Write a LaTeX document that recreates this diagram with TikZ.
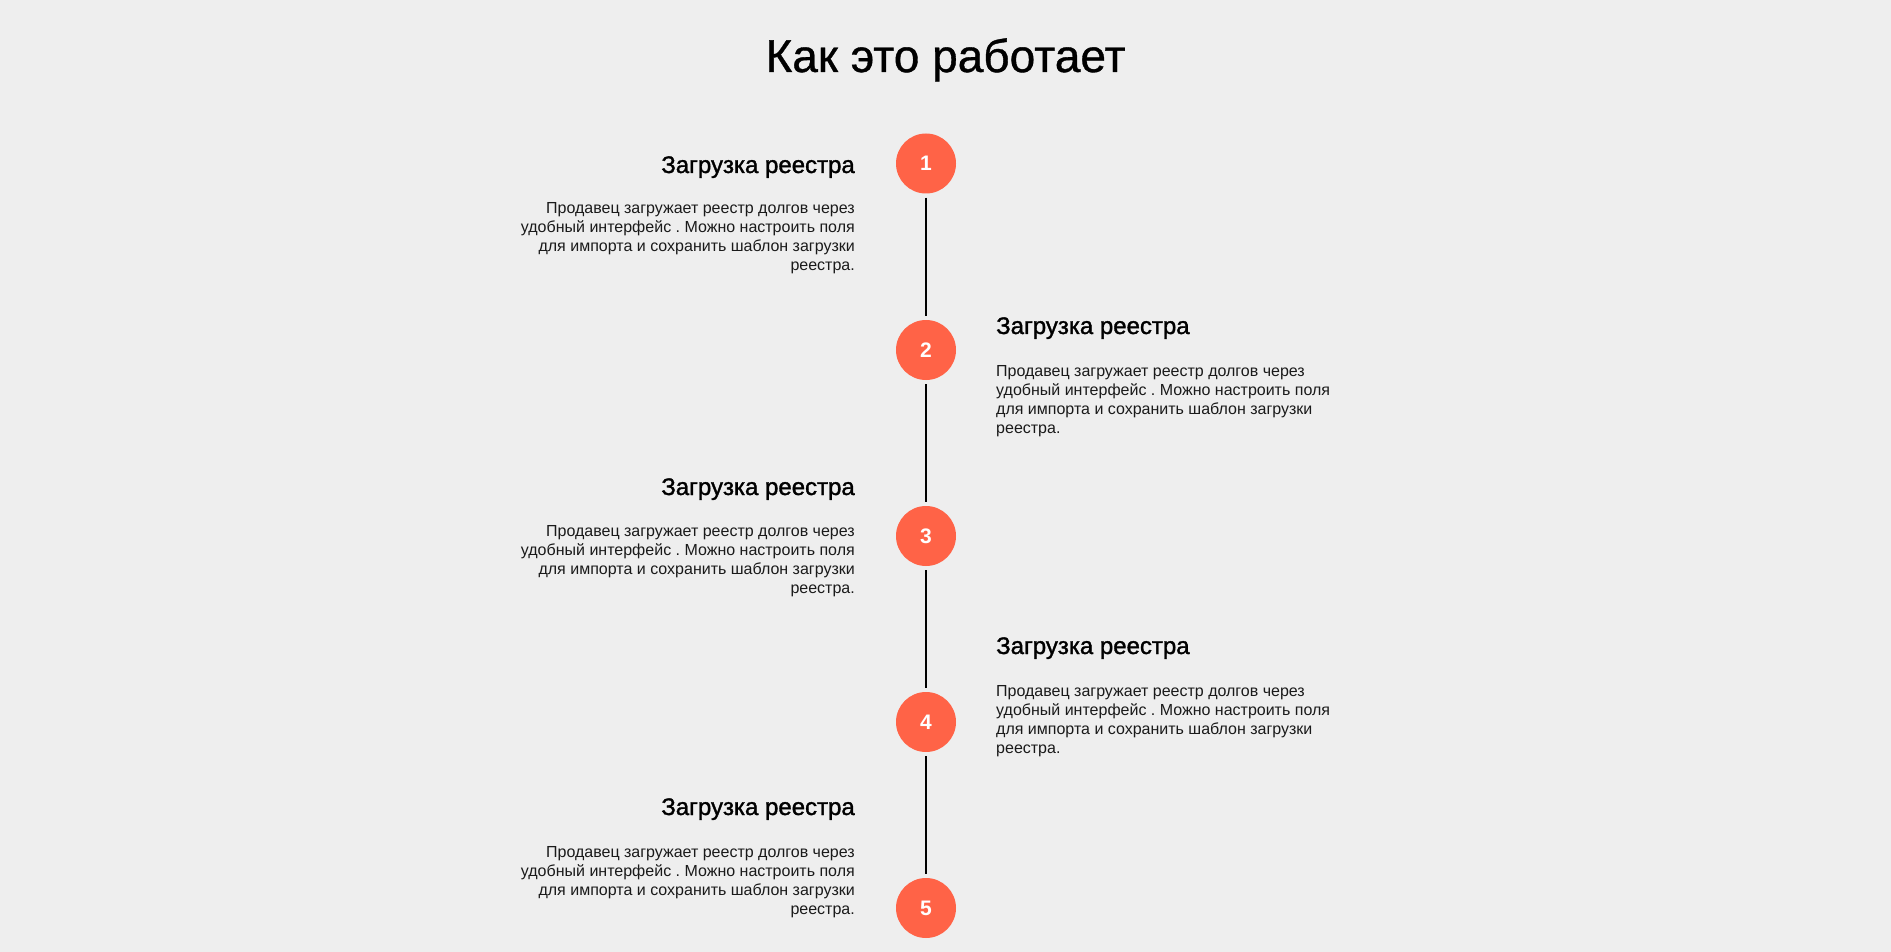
\documentclass[tikz,border=0pt]{standalone}
\usepackage{fontspec}
\setmainfont{Liberation Sans}
\newfontfamily\headfont[FakeBold=1.4]{Liberation Sans}
\newfontfamily\titlefont[FakeBold=0.8]{Liberation Sans}
\frenchspacing
\definecolor{bg}{HTML}{EEEEEE}
\definecolor{tomato}{HTML}{FF6347}
\definecolor{bodytext}{HTML}{1A1A1A}
\newcommand{\bodyR}{\begin{tabular}[t]{@{}r@{}}Продавец загружает реестр долгов через\\удобный интерфейс . Можно настроить поля\\для импорта и сохранить шаблон загрузки\\реестра.\end{tabular}}
\newcommand{\bodyL}{\begin{tabular}[t]{@{}l@{}}Продавец загружает реестр долгов через\\удобный интерфейс . Можно настроить поля\\для импорта и сохранить шаблон загрузки\\реестра.\end{tabular}}
\tikzset{
  stepcircle/.style={circle, fill=tomato, minimum size=60pt, inner sep=0pt, text=white, font=\fontsize{21}{21}\selectfont\bfseries},
  headleft/.style={anchor=base east, inner sep=0pt, font=\headfont\fontsize{24}{24}\selectfont},
  headright/.style={anchor=base west, inner sep=0pt, font=\headfont\fontsize{24}{24}\selectfont},
  bodyleft/.style={anchor=base east, inner sep=0pt, text=bodytext, font=\frenchspacing\fontsize{16}{19}\selectfont},
  bodyright/.style={anchor=base west, inner sep=0pt, text=bodytext, font=\frenchspacing\fontsize{16}{19}\selectfont},
  timeline/.style={line width=2.5pt, black, shorten >=4pt, shorten <=4pt}
}
\begin{document}
\begin{tikzpicture}[x=1pt,y=-1pt]
\fill[bg] (0,0) rectangle (1891,952);
\useasboundingbox (0,0) rectangle (1891,952);
\node[anchor=base, inner sep=0pt, font=\titlefont\fontsize{46}{46}\selectfont] (title) at (945.5,72) {Как это работает};
\node[stepcircle] (c1) at (926,163.5) {1};
\node[stepcircle] (c2) at (926,350) {2};
\node[stepcircle] (c3) at (926,536) {3};
\node[stepcircle] (c4) at (926,722) {4};
\node[stepcircle] (c5) at (926,908) {5};
\draw[timeline] (c1) -- (c2);
\draw[timeline] (c2) -- (c3);
\draw[timeline] (c3) -- (c4);
\draw[timeline] (c4) -- (c5);
\node[headleft] (h1) at (855,173) {Загрузка реестра};
\node[bodyleft] (b1) at (855,214) {\bodyR};
\node[headright] (h2) at (996,334) {Загрузка реестра};
\node[bodyright] (b2) at (996,376) {\bodyL};
\node[headleft] (h3) at (855,495) {Загрузка реестра};
\node[bodyleft] (b3) at (855,536) {\bodyR};
\node[headright] (h4) at (996,654) {Загрузка реестра};
\node[bodyright] (b4) at (996,696) {\bodyL};
\node[headleft] (h5) at (855,815) {Загрузка реестра};
\node[bodyleft] (b5) at (855,857) {\bodyR};
\end{tikzpicture}
\end{document}
